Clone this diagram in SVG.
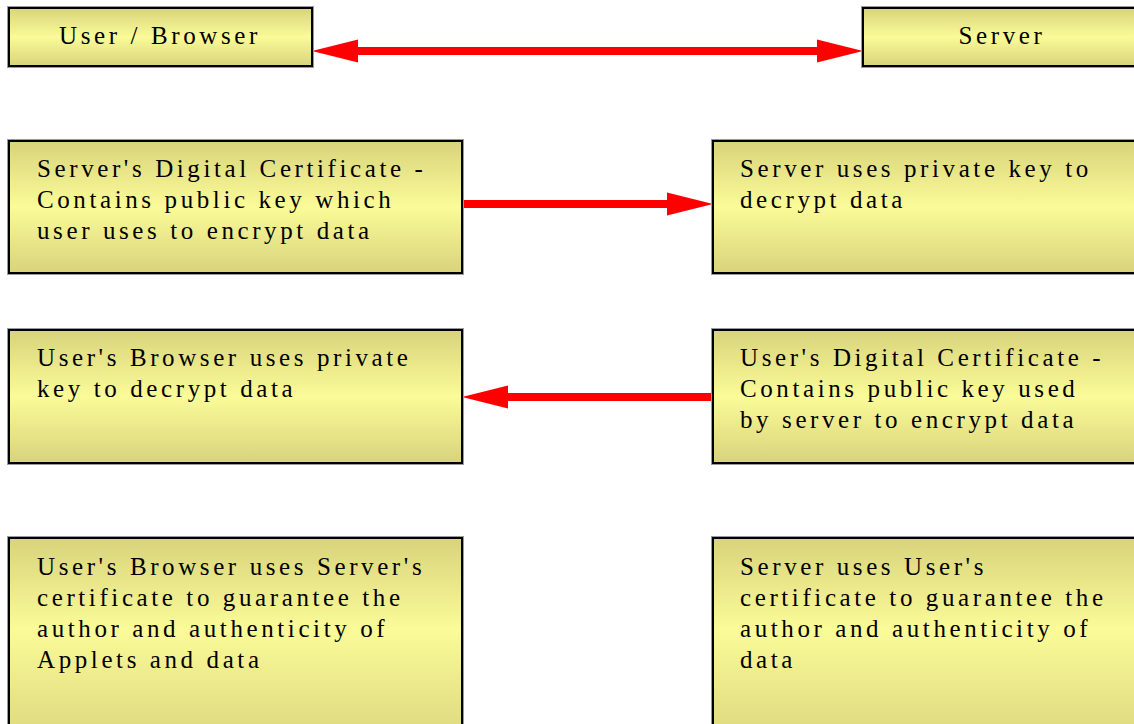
<svg xmlns="http://www.w3.org/2000/svg" width="1134" height="724" viewBox="0 0 1134 724">
  <defs>
    <linearGradient id="fill" x1="0" y1="0" x2="0" y2="1">
      <stop offset="0" stop-color="#d8d37c"/>
      <stop offset="0.5" stop-color="#fbfb98"/>
      <stop offset="1" stop-color="#d8d37c"/>
    </linearGradient>
    <linearGradient id="fillTall" x1="0" y1="0" x2="0" y2="1">
      <stop offset="0" stop-color="#d8d37c"/>
      <stop offset="0.42" stop-color="#fbfb98"/>
      <stop offset="1" stop-color="#d8d37c"/>
    </linearGradient>
  </defs>
  <style>
    .box { fill: url(#fill); stroke: #000; stroke-width: 2; }
    .tall { fill: url(#fillTall); }
    .halo { fill: none; stroke: #9a9a9a; stroke-width: 1; }
    .t { font-size: 25px; letter-spacing: 3.6px; fill: #000; }
    .c { text-anchor: middle; }
    .link { stroke: #ff0000; stroke-width: 8; fill: none; }
    .tip { fill: #ff0000; }
  </style>

  <rect width="1134" height="724" fill="#fff"/>

  <!-- connectors -->
  <g id="connectors">
    <line class="link" x1="358" y1="51" x2="817" y2="51"/>
    <path class="tip" d="M312,51 L358,39.5 L358,62.5 Z"/>
    <path class="tip" d="M863,51 L817,39.5 L817,62.5 Z"/>
    <line class="link" x1="462" y1="204" x2="667" y2="204"/>
    <path class="tip" d="M713,204 L667,192.5 L667,215.5 Z"/>
    <line class="link" x1="713" y1="397" x2="508" y2="397"/>
    <path class="tip" d="M462,397 L508,385.5 L508,408.5 Z"/>
  </g>

  <g font-family="Liberation Serif, Times New Roman, serif">
    <!-- header: user side -->
    <g id="user-browser">
      <rect class="halo" x="7.5" y="6.5" width="306" height="61"/>
      <rect class="box" x="9" y="8" width="303" height="58"/>
      <text class="t c" x="160" y="44" letter-spacing="4">User / Browser</text>
    </g>

    <!-- header: server side -->
    <g id="server">
      <rect class="halo" x="861.5" y="6.5" width="300" height="61"/>
      <rect class="box" x="863" y="8" width="297" height="58"/>
      <text class="t c" x="1002" y="44" letter-spacing="4">Server</text>
    </g>

    <g id="server-cert">
      <rect class="halo" x="7.5" y="139.5" width="456" height="135"/>
      <rect class="box" x="9" y="141" width="453" height="132"/>
      <text class="t" x="37" y="177">Server's Digital Certificate -</text>
      <text class="t" x="37" y="208">Contains public key which</text>
      <text class="t" x="37" y="239">user uses to encrypt data</text>
    </g>

    <g id="server-decrypt">
      <rect class="halo" x="711.5" y="139.5" width="456" height="135"/>
      <rect class="box" x="713" y="141" width="453" height="132"/>
      <text class="t" x="740" y="177">Server uses private key to</text>
      <text class="t" x="740" y="208">decrypt data</text>
    </g>

    <g id="browser-decrypt">
      <rect class="halo" x="7.5" y="328.5" width="456" height="136"/>
      <rect class="box" x="9" y="330" width="453" height="133"/>
      <text class="t" x="37" y="366">User's Browser uses private</text>
      <text class="t" x="37" y="397">key to decrypt data</text>
    </g>

    <g id="user-cert">
      <rect class="halo" x="711.5" y="328.5" width="456" height="136"/>
      <rect class="box" x="713" y="330" width="453" height="133"/>
      <text class="t" x="740" y="366">User's Digital Certificate -</text>
      <text class="t" x="740" y="397">Contains public key used</text>
      <text class="t" x="740" y="428">by server to encrypt data</text>
    </g>

    <g id="browser-verify">
      <rect class="halo" x="7.5" y="536.5" width="456" height="220"/>
      <rect class="box tall" x="9" y="538" width="453" height="217"/>
      <text class="t" x="37" y="575">User's Browser uses Server's</text>
      <text class="t" x="37" y="606">certificate to guarantee the</text>
      <text class="t" x="37" y="637">author and authenticity of</text>
      <text class="t" x="37" y="668">Applets and data</text>
    </g>

    <g id="server-verify">
      <rect class="halo" x="711.5" y="536.5" width="456" height="220"/>
      <rect class="box tall" x="713" y="538" width="453" height="217"/>
      <text class="t" x="740" y="575">Server uses User's</text>
      <text class="t" x="740" y="606">certificate to guarantee the</text>
      <text class="t" x="740" y="637">author and authenticity of</text>
      <text class="t" x="740" y="668">data</text>
    </g>
  </g>
</svg>
